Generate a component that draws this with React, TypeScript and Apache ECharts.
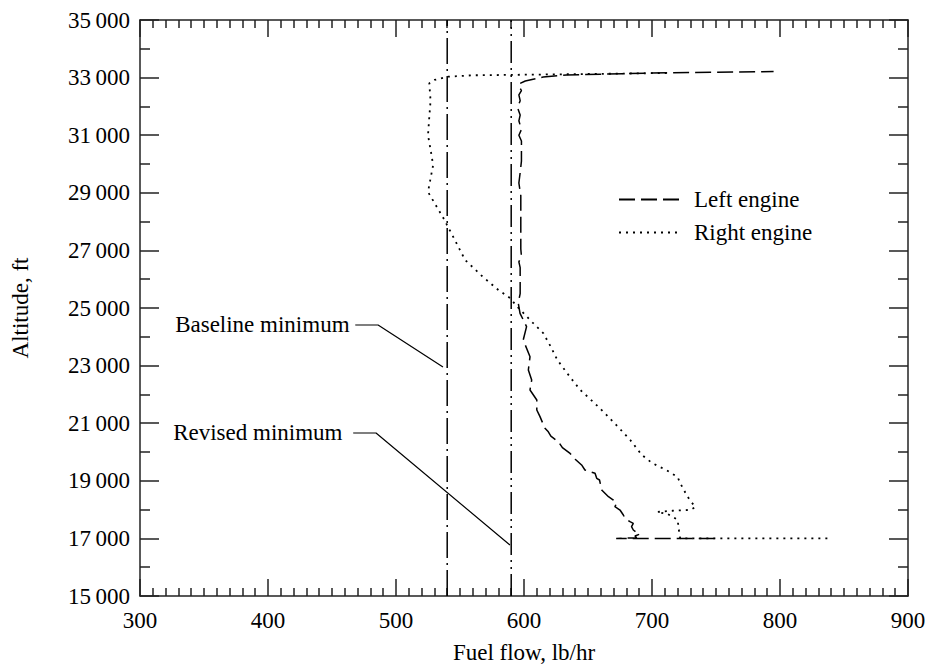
import React, { useEffect, useRef } from "react";
import * as echarts from "echarts";

// ---- Data ----
const xTicks = [300, 400, 500, 600, 700, 800, 900];
const yTicks = [15000, 17000, 19000, 21000, 23000, 25000, 27000, 29000, 31000, 33000, 35000];

const leftFuel = [
  749, 672, 688, 686.7, 690.6, 688, 685.4, 684, 685.4, 682.8, 679, 677.6, 675, 671, 672.4, 669.8, 666,
  660.7, 659, 656.8, 655.5, 647.6, 645, 640, 636, 630, 627, 621, 619, 616.4, 612.5, 610, 610, 604.7, 606,
  603.4, 604.7, 599.4, 602, 596.9, 595.5, 597, 597, 596, 598, 597.5, 597.5, 596, 597, 598, 598, 596, 598,
  596, 597, 595, 597, 596, 598, 596, 597, 601, 615, 633, 700, 795,
];
const leftAlt = [
  17000, 17000, 17020, 17083, 17153, 17200, 17292, 17407, 17523, 17581, 17697, 17812, 17986, 18102, 18218,
  18333, 18449, 18680, 19028, 19086, 19260, 19375, 19550, 19750, 19950, 20150, 20350, 20550, 20700, 20822,
  21227, 21458, 21806, 22153, 22500, 22847, 23310, 23889, 24352, 24815, 25174, 25500, 26400, 26600, 26800,
  27050, 28900, 29340, 29700, 30100, 30800, 31000, 31200, 31500, 31700, 31950, 32200, 32400, 32550, 32700,
  32800, 32880, 33020, 33090, 33160, 33210,
];

const rightFuel = [
  837, 722, 721, 720, 712, 704, 716, 730, 734, 730, 727, 722, 720, 712, 700, 692, 683, 675, 663, 655, 644,
  636, 626, 621, 615, 607, 595, 589, 580, 568, 554, 546, 537, 525, 527, 529, 527, 525, 526, 527, 526, 530,
  540, 560, 600, 660, 712,
];
const rightAlt = [
  17000, 17000, 17292, 17650, 17850, 17917, 17960, 17990, 18090, 18300, 18507, 18924, 19132, 19350, 19618,
  19900, 20417, 20800, 21354, 21700, 22153, 22600, 23200, 23650, 24130, 24480, 25035, 25347, 25625, 26076,
  26667, 27360, 28125, 29030, 29500, 29965, 30500, 31000, 31630, 32200, 32800, 32917, 33030, 33080, 33100,
  33130, 33160,
];

const baselineFuel = 540;
const revisedFuel = 590;

const baselineLeaderFuel = [468, 486, 536.7];
const baselineLeaderAlt = [24410, 24410, 22950];
const revisedLeaderFuel = [466.4, 484.4, 589];
const revisedLeaderAlt = [20660, 20660, 16771];

const FONT = '"Liberation Serif", "Times New Roman", serif';
const AXIS_COLOR = "#222";

const zip = (xs: number[], ys: number[]) => xs.map((x, i) => [x, ys[i]]);

export default function App() {
  const ref = useRef<HTMLDivElement>(null);

  useEffect(() => {
    if (!ref.current) return;
    const chart = echarts.init(ref.current, undefined, { renderer: "svg" });

    const fmtY = (v: number) => {
      const s = String(v);
      return s.slice(0, s.length - 3) + "\u2009" + s.slice(s.length - 3);
    };

    const xCommon = {
      type: "value",
      min: xTicks[0],
      max: xTicks[xTicks.length - 1],
      interval: 100,
      splitLine: { show: false },
      axisLine: { show: true, onZero: false, lineStyle: { color: AXIS_COLOR, width: 1.5 } },
      axisTick: { show: true, inside: true, length: 17, lineStyle: { color: AXIS_COLOR, width: 1.5 } },
      minorTick: { show: true, splitNumber: 10, length: 8, lineStyle: { color: AXIS_COLOR, width: 1.5 } },
    };
    const yCommon = {
      type: "value",
      min: yTicks[0],
      max: yTicks[yTicks.length - 1],
      interval: 2000,
      splitLine: { show: false },
      axisLine: { show: true, onZero: false, lineStyle: { color: AXIS_COLOR, width: 1.5 } },
      axisTick: { show: true, inside: true, length: 19, lineStyle: { color: AXIS_COLOR, width: 1.5 } },
      minorTick: { show: true, splitNumber: 2, length: 10, lineStyle: { color: AXIS_COLOR, width: 1.5 } },
    };

    const vline = (x: number, dash: number[]) => ({
      type: "line",
      data: [
        [x, yTicks[0]],
        [x, yTicks[yTicks.length - 1]],
      ],
      symbol: "none",
      silent: true,
      itemStyle: { color: "#000" },
      lineStyle: { color: "#000", width: 1.5, type: dash },
      z: 3,
    });

    const leader = (fx: number[], ay: number[]) => ({
      type: "line",
      data: zip(fx, ay),
      symbol: "none",
      silent: true,
      itemStyle: { color: "#000" },
      lineStyle: { color: "#000", width: 1.2, type: "solid" },
      z: 3,
    });

    const labelPoint = (x: number, y: number, text: string, dist: number) => ({
      type: "scatter",
      data: [[x, y]],
      symbolSize: 1,
      itemStyle: { color: "#fff", opacity: 1 },
      silent: true,
      z: 5,
      label: {
        show: true,
        position: "left",
        distance: dist,
        formatter: text,
        color: "#000",
        opacity: 1,
        textBorderWidth: 0,
        fontSize: 23,
        fontFamily: FONT,
      },
    });

    chart.setOption({
      animation: false,
      grid: { left: 140, right: 23, top: 20, bottom: 72, containLabel: false, outerBoundsMode: "none" },
      legend: {
        left: 618,
        top: 188,
        padding: 0,
        orient: "vertical",
        itemWidth: 60,
        itemHeight: 14,
        itemGap: 10,
        data: ["Left engine", "Right engine"],
        itemStyle: { opacity: 0 },
        textStyle: { fontSize: 23, fontFamily: FONT, color: "#000", padding: [0, 0, 0, 10] },
      },
      xAxis: [
        {
          ...xCommon,
          position: "bottom",
          axisLabel: { show: true, fontSize: 23, fontFamily: FONT, color: "#000", margin: 13 },
        },
        {
          ...xCommon,
          position: "top",
          axisLabel: { show: false },
        },
      ],
      yAxis: [
        {
          ...yCommon,
          position: "left",
          axisLabel: { show: true, fontSize: 23, fontFamily: FONT, color: "#000", margin: 10, formatter: fmtY },
        },
        {
          ...yCommon,
          position: "right",
          axisLabel: { show: false },
        },
      ],
      graphic: [
        {
          type: "text",
          x: 524,
          y: 652,
          style: { text: "Fuel flow, lb/hr", font: `23px ${FONT}`, fill: "#000", align: "center", verticalAlign: "middle" },
        },
        {
          type: "text",
          x: 20,
          y: 308,
          rotation: Math.PI / 2,
          style: { text: "Altitude, ft", font: `23px ${FONT}`, fill: "#000", align: "center", verticalAlign: "middle" },
        },
      ],
      series: [
        {
          name: "Left engine",
          type: "line",
          data: zip(leftFuel, leftAlt),
          symbol: "none",
          itemStyle: { color: "#000" },
          lineStyle: { color: "#000", width: 1.5, type: [16, 6] },
          z: 4,
        },
        {
          name: "Right engine",
          type: "line",
          data: zip(rightFuel, rightAlt),
          symbol: "none",
          itemStyle: { color: "#000" },
          lineStyle: { color: "#000", width: 1.8, type: [2, 5] },
          z: 4,
        },
        vline(baselineFuel, [26, 5, 2, 5]),
        vline(revisedFuel, [22, 5, 2, 5, 2, 5]),
        leader(baselineLeaderFuel, baselineLeaderAlt),
        leader(revisedLeaderFuel, revisedLeaderAlt),
        labelPoint(baselineLeaderFuel[0], baselineLeaderAlt[0], "Baseline minimum", 5),
        labelPoint(revisedLeaderFuel[0], revisedLeaderAlt[0], "Revised minimum", 10),
      ],
    });

    return () => chart.dispose();
  }, []);

  return <div ref={ref} style={{ width: 931, height: 668, position: "absolute", left: 0, top: 0 }} />;
}
